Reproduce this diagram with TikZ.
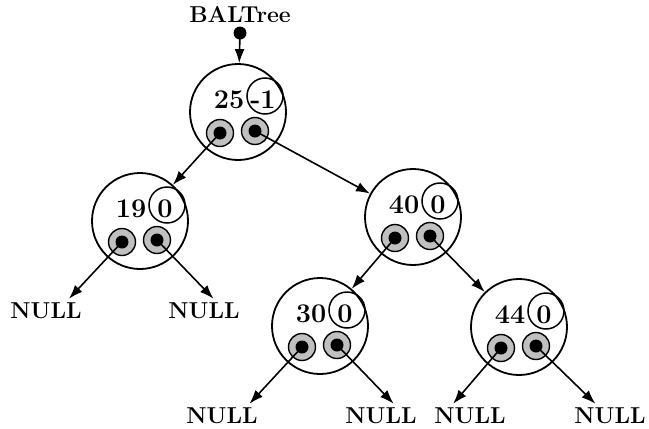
\documentclass[tikz,border=0pt]{standalone}
\usetikzlibrary{
  arrows.meta,
  positioning,
  calc
}
\definecolor{balLine}{RGB}{0,0,0}
\definecolor{balPtr}{RGB}{192,192,192}
\tikzset{
  balnode/.style={
    draw=balLine,
    circle,
    line width=1.8pt,
    minimum size=96pt,
    inner sep=0pt
  },
  balfactor/.style={
    draw=balLine,
    circle,
    line width=1.5pt,
    minimum size=36pt,
    inner sep=0pt
  },
  balptr/.style={
    draw=balLine,
    circle,
    fill=balPtr,
    line width=1.4pt,
    minimum size=27pt,
    inner sep=0pt
  },
  baldot/.style={
    fill=balLine,
    circle,
    minimum size=13pt,
    inner sep=0pt
  },
  balkey/.style={
    font=\fontsize{27}{30}\selectfont\bfseries,
    inner sep=0pt
  },
  balnull/.style={
    font=\fontsize{23}{26}\selectfont\bfseries,
    inner xsep=1pt,
    inner ysep=4pt
  },
  balarrow/.style={
    -{Latex[length=14pt,width=10pt]},
    line width=1.6pt,
    draw=balLine
  }
}

\begin{document}
\begin{tikzpicture}[x=1pt, y=-1pt]
  \useasboundingbox (0,0) rectangle (649,429);

  \node[balkey, font=\fontsize{23}{26}\selectfont\bfseries] (head) at (240,15) {BALTree};
  \node[baldot, minimum size=13pt] (headdot) at (240,33) {};

  \foreach \n/\x/\y/\k/\b in {root/238/112/25/-1, n19/140/221/19/0, n40/413/217/40/0, n30/320/326/30/0, n44/519/327/44/0} {
    \node[balnode] (\n) at (\x,\y) {};
    \node[balfactor] (\n-f) at ($(\n)+(27,-16)$) {};
    \node[balkey] (\n-k) at ($(\n)+(-9,-12)$) {\k};
    \node[balkey] (\n-b) at ($(\n)+(25,-12)$) {\b};
    \node[balptr] (\n-l) at ($(\n)+(-18,21)$) {};
    \node[balptr] (\n-r) at ($(\n)+(17,19)$) {};
    \node[baldot] at (\n-l) {};
    \node[baldot] at (\n-r) {};
  }

  \node[balnull] (null1) at (46,311) {NULL};
  \node[balnull] (null2) at (204,311) {NULL};
  \node[balnull] (null3) at (222,416) {NULL};
  \node[balnull] (null4) at (381,416) {NULL};
  \node[balnull] (null5) at (470,416) {NULL};
  \node[balnull] (null6) at (610,416) {NULL};

  \draw[balarrow] (headdot.center) -- (root);
  \draw[balarrow] (root-l.center) -- (n19);
  \draw[balarrow] (root-r.center) -- (n40);
  \draw[balarrow] (n40-l.center) -- (n30);
  \draw[balarrow] (n40-r.center) -- (n44);

  \draw[balarrow] (n19-l.center) -- (null1.28);
  \draw[balarrow] (n19-r.center) -- (null2.52);
  \draw[balarrow] (n30-l.center) -- (null3.24);
  \draw[balarrow] (n30-r.center) -- (null4.44);
  \draw[balarrow] (n44-l.center) -- (null5.144);
  \draw[balarrow] (n44-r.center) -- (null6.140);
\end{tikzpicture}
\end{document}
